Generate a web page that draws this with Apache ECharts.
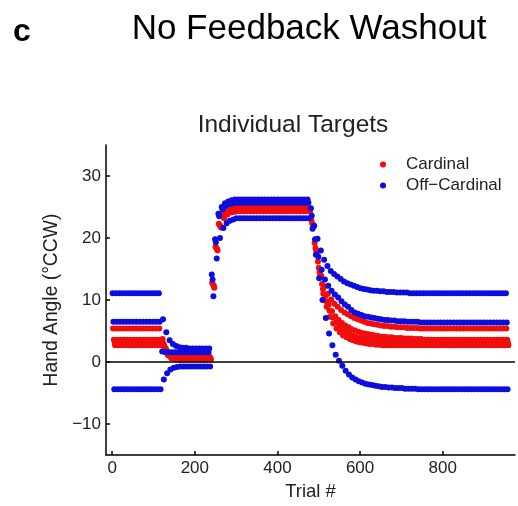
<!DOCTYPE html>
<html>
<head>
<meta charset="utf-8">
<script src="https://cdn.jsdelivr.net/npm/echarts@6/dist/echarts.min.js"></script>
<style>
html,body{margin:0;padding:0;background:#fff;}
#chart{width:518px;height:506px;}
</style>
</head>
<body>
<div id="chart"></div>
<script>
// ---- data (one value per target per 8-trial cycle, 120 cycles = 960 trials) ----
const cycleLength = 8;
const xTicks = [0, 200, 400, 600, 800];
const yTicks = [-10, 0, 10, 20, 30];
const legendNames = ['Cardinal', 'Off\u2212Cardinal'];

// trial offset of each target inside a cycle
const offB1 = 1, offR1 = 2, offB2 = 3, offR2 = 4, offB3 = 5, offR3 = 6, offR4 = 7;

// Off-cardinal targets (blue)
const offCardinal1 = [
  11.1,11.1,11.1,11.1,11.1,11.1,11.1,11.1,11.1,11.1,11.1,11.1,11.1,11.1,11.1,
  1.7,1.6,1.6,1.6,1.6,1.6,1.6,1.6,1.6,1.6,1.6,1.6,1.6,1.6,1.6,
  14.1,19.8,23.9,25.0,25.6,25.9,26.1,26.2,26.2,26.2,26.2,26.2,26.2,26.2,26.2,
  26.2,26.2,26.2,26.2,26.2,26.2,26.2,26.2,26.2,26.2,26.2,26.2,26.2,26.2,26.2,
  24.8,22.0,19.9,18.0,16.5,15.5,14.7,14.2,13.8,13.4,13.0,12.7,12.5,12.3,12.1,
  11.9,11.8,11.7,11.6,11.5,11.5,11.4,11.4,11.3,11.3,11.3,11.2,11.2,11.2,11.2,
  11.1,11.1,11.1,11.1,11.1,11.1,11.1,11.1,11.1,11.1,11.1,11.1,11.1,11.1,11.1,
  11.1,11.1,11.1,11.1,11.1,11.1,11.1,11.1,11.1,11.1,11.1,11.1,11.1,11.1,11.1
];
const offCardinal2 = [
  6.5,6.5,6.5,6.5,6.5,6.5,6.5,6.5,6.5,6.5,6.5,6.5,6.5,6.5,6.5,
  6.9,4.8,3.5,2.9,2.6,2.4,2.3,2.3,2.2,2.2,2.2,2.2,2.2,2.2,2.2,
  13.3,19.3,23.5,24.6,25.2,25.5,25.6,25.7,25.7,25.7,25.7,25.7,25.7,25.7,25.7,
  25.7,25.7,25.7,25.7,25.7,25.7,25.7,25.7,25.7,25.7,25.7,25.7,25.7,25.7,25.7,
  23.6,19.8,17.0,14.9,13.3,12.3,11.5,10.9,10.4,9.8,9.3,8.9,8.4,8.0,7.8,
  7.6,7.4,7.3,7.2,7.1,7.0,6.9,6.8,6.8,6.7,6.7,6.6,6.6,6.6,6.5,
  6.5,6.5,6.5,6.4,6.4,6.4,6.4,6.4,6.4,6.4,6.4,6.4,6.4,6.4,6.4,
  6.4,6.4,6.4,6.4,6.4,6.4,6.4,6.4,6.4,6.4,6.4,6.4,6.4,6.4,6.4
];
const offCardinal3 = [
  -4.4,-4.4,-4.4,-4.4,-4.4,-4.4,-4.4,-4.4,-4.4,-4.4,-4.4,-4.4,-4.4,-4.4,-4.4,
  -2.8,-1.8,-1.2,-0.9,-0.8,-0.7,-0.7,-0.7,-0.7,-0.7,-0.7,-0.7,-0.7,-0.7,-0.7,
  10.6,16.7,20.0,21.6,22.4,22.8,23.0,23.2,23.2,23.2,23.2,23.2,23.2,23.2,23.2,
  23.2,23.2,23.2,23.2,23.2,23.2,23.2,23.2,23.2,23.2,23.2,23.2,23.2,23.2,23.2,
  21.5,17.3,13.5,10.0,7.1,4.6,2.7,1.2,0.2,-0.6,-1.4,-2.0,-2.5,-2.8,-3.1,
  -3.3,-3.5,-3.6,-3.7,-3.8,-3.9,-4.0,-4.0,-4.1,-4.1,-4.2,-4.2,-4.2,-4.3,-4.3,
  -4.3,-4.3,-4.4,-4.4,-4.4,-4.4,-4.4,-4.4,-4.4,-4.4,-4.4,-4.4,-4.4,-4.4,-4.4,
  -4.4,-4.4,-4.4,-4.4,-4.4,-4.4,-4.4,-4.4,-4.4,-4.4,-4.4,-4.4,-4.4,-4.4,-4.4
];

// Cardinal targets (red)
const cardinal1 = [
  5.4,5.4,5.4,5.4,5.4,5.4,5.4,5.4,5.4,5.4,5.4,5.4,5.4,5.4,5.4,
  3.7,2.2,1.5,1.2,1.1,1.0,1.0,1.0,1.0,1.0,1.0,1.0,1.0,1.0,1.0,
  12.8,18.6,22.3,23.8,24.4,24.7,24.8,24.9,24.9,24.9,24.9,24.9,24.9,24.9,24.9,
  24.9,24.9,24.9,24.9,24.9,24.9,24.9,24.9,24.9,24.9,24.9,24.9,24.9,24.9,24.9,
  22.9,19.2,16.2,13.9,12.2,11.0,10.1,9.4,8.9,8.4,8.0,7.7,7.4,7.1,6.9,
  6.7,6.5,6.3,6.2,6.1,6.0,5.9,5.8,5.8,5.7,5.7,5.6,5.6,5.6,5.5,
  5.5,5.5,5.5,5.4,5.4,5.4,5.4,5.4,5.4,5.4,5.4,5.4,5.4,5.4,5.4,
  5.4,5.4,5.4,5.4,5.4,5.4,5.4,5.4,5.4,5.4,5.4,5.4,5.4,5.4,5.4
];
const cardinal2 = [
  3.6,3.6,3.6,3.6,3.6,3.6,3.6,3.6,3.6,3.6,3.6,3.6,3.6,3.6,3.6,
  3.0,1.7,1.1,0.9,0.8,0.8,0.8,0.8,0.8,0.8,0.8,0.8,0.8,0.8,0.8,
  12.5,18.4,22.1,23.6,24.2,24.5,24.6,24.7,24.7,24.7,24.7,24.7,24.7,24.7,24.7,
  24.7,24.7,24.7,24.7,24.7,24.7,24.7,24.7,24.7,24.7,24.7,24.7,24.7,24.7,24.7,
  22.4,18.4,15.2,12.6,10.7,9.3,8.2,7.4,6.8,6.3,5.9,5.6,5.3,5.1,4.9,
  4.7,4.6,4.5,4.4,4.3,4.2,4.1,4.1,4.0,4.0,3.9,3.9,3.9,3.8,3.8,
  3.8,3.7,3.7,3.7,3.6,3.6,3.6,3.6,3.6,3.6,3.6,3.6,3.6,3.6,3.6,
  3.6,3.6,3.6,3.6,3.6,3.6,3.6,3.6,3.6,3.6,3.6,3.6,3.6,3.6,3.6
];
const cardinal3 = [
  3.1,3.1,3.1,3.1,3.1,3.1,3.1,3.1,3.1,3.1,3.1,3.1,3.1,3.1,3.1,
  2.6,1.4,0.8,0.7,0.6,0.6,0.6,0.6,0.6,0.6,0.6,0.6,0.6,0.6,0.6,
  12.3,18.2,21.9,23.4,24.0,24.3,24.4,24.5,24.5,24.5,24.5,24.5,24.5,24.5,24.5,
  24.5,24.5,24.5,24.5,24.5,24.5,24.5,24.5,24.5,24.5,24.5,24.5,24.5,24.5,24.5,
  22.1,17.9,14.5,11.8,9.8,8.3,7.2,6.4,5.8,5.3,4.9,4.6,4.3,4.1,3.9,
  3.8,3.7,3.6,3.5,3.4,3.4,3.3,3.3,3.3,3.2,3.2,3.2,3.2,3.1,3.1,
  3.1,3.1,3.1,3.1,3.1,3.1,3.1,3.1,3.1,3.1,3.1,3.1,3.1,3.1,3.1,
  3.1,3.1,3.1,3.1,3.1,3.1,3.1,3.1,3.1,3.1,3.1,3.1,3.1,3.1,3.1
];
const cardinal4 = [
  2.7,2.7,2.7,2.7,2.7,2.7,2.7,2.7,2.7,2.7,2.7,2.7,2.7,2.7,2.7,
  2.2,1.1,0.6,0.5,0.4,0.4,0.4,0.4,0.4,0.4,0.4,0.4,0.4,0.4,0.4,
  12.0,18.0,21.7,23.2,23.8,24.1,24.2,24.3,24.3,24.3,24.3,24.3,24.3,24.3,24.3,
  24.3,24.3,24.3,24.3,24.3,24.3,24.3,24.3,24.3,24.3,24.3,24.3,24.3,24.3,24.3,
  21.8,17.4,13.8,11.0,8.9,7.3,6.2,5.4,4.8,4.3,4.0,3.7,3.5,3.3,3.2,
  3.1,3.0,2.9,2.9,2.8,2.8,2.7,2.7,2.7,2.7,2.7,2.7,2.7,2.7,2.7,
  2.7,2.7,2.7,2.7,2.7,2.7,2.7,2.7,2.7,2.7,2.7,2.7,2.7,2.7,2.7,
  2.7,2.7,2.7,2.7,2.7,2.7,2.7,2.7,2.7,2.7,2.7,2.7,2.7,2.7,2.7
];

// ---- chart ----
const FONT = '"Liberation Sans", Arial, sans-serif';
const RED = '#f20d0d';
const BLUE = '#0d0dde';

function toPoints(values, offset) {
  return values.map((v, i) => [i * cycleLength + offset, v]);
}

function scatter(name, color, values, offset, extra) {
  return Object.assign({
    type: 'scatter',
    name: name,
    data: toPoints(values, offset),
    symbol: 'circle',
    symbolSize: 6,
    itemStyle: { color: color, opacity: 1 },
    silent: true
  }, extra || {});
}

const chart = echarts.init(document.getElementById('chart'), null, { renderer: 'canvas' });

const option = {
  animation: false,
  backgroundColor: '#fff',
  textStyle: { fontFamily: FONT },
  grid: { left: 106, right: 3, top: 145, bottom: 50, containLabel: false },
  graphic: [
    { type: 'text', left: 13, top: 16, style: { text: 'c', font: 'bold 32px ' + FONT, fill: '#000' } },
    { type: 'text', x: 309, y: 29, style: { text: 'No Feedback Washout', font: '35px ' + FONT, fill: '#000', textAlign: 'center', textVerticalAlign: 'middle' } },
    { type: 'text', x: 293, y: 125, style: { text: 'Individual Targets', font: '24.5px ' + FONT, fill: '#222', textAlign: 'center', textVerticalAlign: 'middle' } }
  ],
  legend: {
    data: legendNames,
    orient: 'vertical',
    left: 375,
    top: 149,
    itemWidth: 36,
    itemHeight: 6,
    itemGap: 0,
    icon: 'circle',
    textStyle: { fontSize: 17, color: '#222', fontFamily: FONT, lineHeight: 21 }
  },
  xAxis: {
    type: 'value',
    min: -15,
    max: 975,
    name: 'Trial #',
    nameLocation: 'middle',
    nameGap: 24,
    nameTextStyle: { fontSize: 18.5, color: '#222', fontFamily: FONT },
    axisLine: { show: true, onZero: false, lineStyle: { color: '#000', width: 1.5 } },
    axisTick: { show: true, inside: true, length: 4, customValues: xTicks, lineStyle: { color: '#000', width: 1.5 } },
    axisLabel: { customValues: xTicks, fontSize: 17, color: '#222', margin: 5, fontFamily: FONT },
    splitLine: { show: false }
  },
  yAxis: {
    type: 'value',
    min: -15,
    max: 35,
    name: 'Hand Angle (\u00B0CCW)',
    nameLocation: 'middle',
    nameGap: 40,
    nameTextStyle: { fontSize: 19.3, color: '#222', fontFamily: FONT },
    axisLine: { show: true, onZero: false, lineStyle: { color: '#000', width: 1.5 } },
    axisTick: { show: true, inside: true, length: 4, customValues: yTicks, lineStyle: { color: '#000', width: 1.5 } },
    axisLabel: { customValues: yTicks, fontSize: 17, color: '#222', margin: 5, fontFamily: FONT,
      formatter: v => String(v).replace('-', '\u2212') },
    splitLine: { show: false }
  },
  series: [
    scatter(legendNames[0], RED, cardinal1, offR1, {
      markLine: {
        silent: true, symbol: 'none', label: { show: false },
        lineStyle: { color: '#000', width: 1.5, type: 'solid' },
        data: [{ yAxis: 0 }]
      }
    }),
    scatter(legendNames[0], RED, cardinal2, offR2),
    scatter(legendNames[0], RED, cardinal3, offR3),
    scatter(legendNames[0], RED, cardinal4, offR4),
    scatter(legendNames[1], BLUE, offCardinal1, offB1),
    scatter(legendNames[1], BLUE, offCardinal2, offB2),
    scatter(legendNames[1], BLUE, offCardinal3, offB3)
  ]
};
chart.setOption(option);
</script>
</body>
</html>
